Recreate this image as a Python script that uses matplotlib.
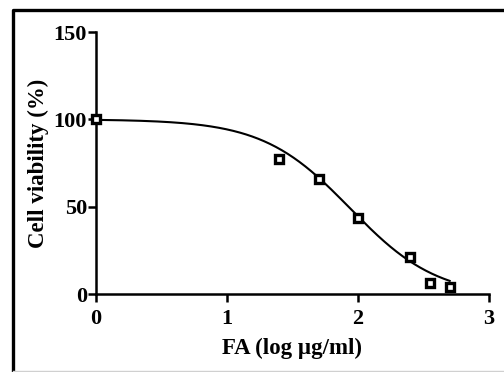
import numpy as np
import matplotlib
matplotlib.use("Agg")
import matplotlib.pyplot as plt
from matplotlib.lines import Line2D

# Data
log_conc = [0.0, 1.4, 1.7, 2.0, 2.4, 2.55, 2.7]
viability = [100.0, 77.5, 66.0, 43.7, 21.0, 6.3, 3.8]

# Fitted four-parameter logistic
fit_top = 100.0
fit_bottom = -2.0
fit_log_ic50 = 1.94
fit_hill = 1.3

x_ticks = [0, 1, 2, 3]
y_ticks = [0, 50, 100, 150]
x_label = "FA (log µg/ml)"
y_label = "Cell viability (%)"

plt.rcParams['font.family'] = ['Liberation Serif', 'DejaVu Serif']
plt.rcParams['font.weight'] = 'bold'

fig = plt.figure(figsize=(5.04, 3.72), dpi=100)
ax = fig.add_axes([96/504, 1-294/372, (489-96)/504, (294-32)/372])

xc = np.linspace(min(log_conc), max(log_conc), 300)
yc = fit_bottom + (fit_top - fit_bottom) / (1 + 10 ** ((xc - fit_log_ic50) * fit_hill))
ax.plot(xc, yc, color='black', lw=1.5, zorder=3, clip_on=False)
ax.plot(log_conc, viability, ls='none', marker='s', ms=5.5, mew=2.4,
        mec='black', mfc='white', zorder=4, clip_on=False)

ax.set_xlim(0, 3)
ax.set_ylim(0, 150)
ax.set_xticks(x_ticks)
ax.set_yticks(y_ticks)
ax.set_xticklabels([str(t) for t in x_ticks])
ax.set_yticklabels([str(t) for t in y_ticks])
for s in ['top', 'right']:
    ax.spines[s].set_visible(False)
for s in ['left', 'bottom']:
    ax.spines[s].set_linewidth(1.8)
ax.tick_params(direction='out', length=5.5, width=1.8, labelsize=16)
ax.tick_params(axis='x', pad=5)
ax.tick_params(axis='y', pad=1)
for lab in ax.get_xticklabels() + ax.get_yticklabels():
    lab.set_fontweight('bold')
ax.set_xlabel(x_label, fontsize=16.5, fontweight='bold', labelpad=7)
ax.set_ylabel(y_label, fontsize=16.5, fontweight='bold', labelpad=3)

# Figure frame (left and top edges visible)
fig.add_artist(Line2D([12.5/504, 12.5/504, 1.0], [0.0, 1-9.5/372, 1-9.5/372],
                      transform=fig.transFigure, color='black', lw=2.4))
fig.add_artist(Line2D([12.5/504, 1.0], [1-370.5/372, 1-370.5/372],
                      transform=fig.transFigure, color='#d0d0d0', lw=1.0))

fig.savefig("out.png", dpi=100)
